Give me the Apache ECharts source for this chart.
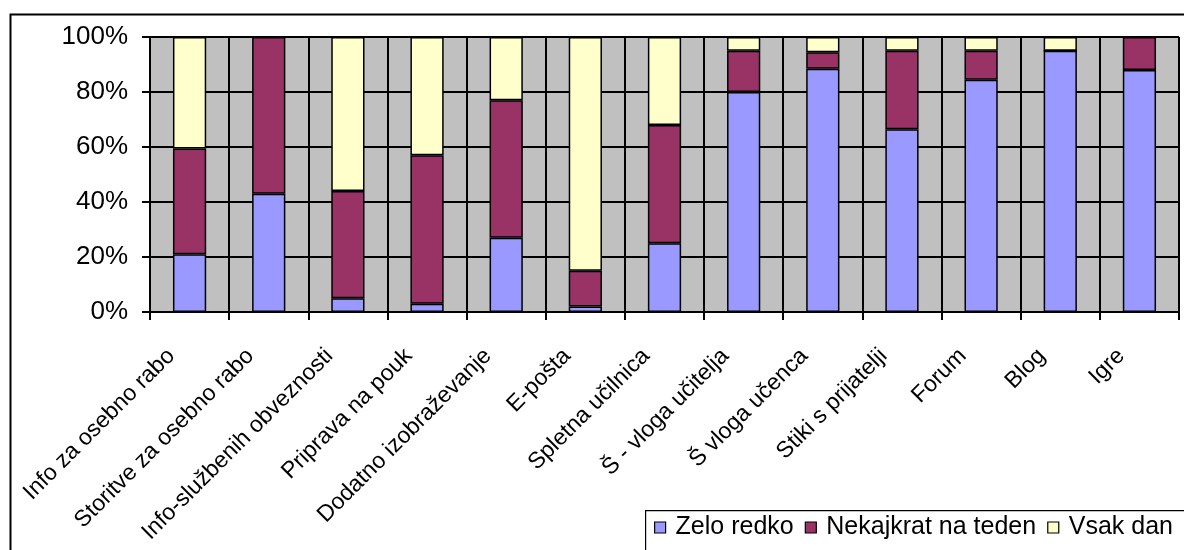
<!DOCTYPE html>
<html>
<head>
<meta charset="utf-8">
<script src="https://cdn.jsdelivr.net/npm/echarts@6/dist/echarts.min.js"></script>
<style>
html,body{margin:0;padding:0;background:#fff;}
#chart{width:1184px;height:550px;}
</style>
</head>
<body>
<div id="chart"></div>
<script>
const categories = ['Info za osebno rabo','Storitve za osebno rabo','Info-službenih obveznosti','Priprava na pouk','Dodatno izobraževanje','E-pošta','Spletna učilnica','Š - vloga učitelja','Š vloga učenca','Stiki s prijatelji','Forum','Blog','Igre'];
const seriesNames = ['Zelo redko','Nekajkrat na teden','Vsak dan'];
const zeloRedko = [21, 43, 5, 3, 27, 2, 25, 80, 88.5, 66.5, 84.5, 95, 88];
const nekajkrat = [38.5, 57, 39, 54, 50, 13, 43, 15, 6, 28.5, 10.5, 0, 12];
const vsakDan = [40.5, 0, 56, 43, 23, 85, 32, 5, 5.5, 5, 5, 5, 0];
const yTicks = [0, 20, 40, 60, 80, 100];

const colors = ['#9999FF', '#993366', '#FFFFCC'];
const font = "'Liberation Sans', Arial, sans-serif";
const chart = echarts.init(document.getElementById('chart'));
const mk = (name, data, i) => ({
  name, type: 'bar', stack: 'total', data, barWidth: '42%',
  itemStyle: { color: colors[i], borderColor: '#000', borderWidth: 1.5 },
  emphasis: { disabled: true }
});
chart.setOption({
  animation: false,
  textStyle: { fontFamily: font, color: '#000' },
  graphic: [{
    type: 'rect', left: 8, top: 12, z: -10,
    shape: { width: 1200, height: 600 },
    style: { fill: 'none', stroke: '#000', lineWidth: 2 }
  }, {
    type: 'rect', left: 645, top: 510, z: -5,
    shape: { width: 600, height: 100 },
    style: { fill: '#fff', stroke: '#000', lineWidth: 1.2 }
  }],
  grid: {
    left: 150, right: 5, top: 37, bottom: 238,
    show: true, backgroundColor: '#C0C0C0', borderColor: '#808080', borderWidth: 1
  },
  legend: {
    left: 646, top: 510, width: 620, orient: 'horizontal',
    data: seriesNames,
    icon: 'rect', itemWidth: 11, itemHeight: 11, itemGap: 11,
    padding: [5, 0, 0, 8],
    borderWidth: 0,
    itemStyle: { borderColor: '#000', borderWidth: 1.2 },
    textStyle: { fontFamily: font, fontSize: 25, color: '#000', padding: [0, 0, 0, 5] }
  },
  xAxis: {
    type: 'category', data: categories, boundaryGap: true,
    axisLine: { lineStyle: { color: '#000', width: 2 } },
    axisTick: { show: true, length: 8, lineStyle: { color: '#000', width: 2 } },
    splitLine: { show: true, interval: 0, lineStyle: { color: '#000', width: 2 } },
    axisLabel: { interval: 0, rotate: 45, fontSize: 23, color: '#000', fontFamily: font, margin: 22, padding: [0, 26, 0, 0] }
  },
  yAxis: {
    type: 'value', min: yTicks[0], max: yTicks[yTicks.length - 1], interval: 20,
    axisLine: { show: true, lineStyle: { color: '#000', width: 2 } },
    axisTick: { show: true, length: 8, lineStyle: { color: '#000', width: 2 } },
    splitLine: { show: true, lineStyle: { color: '#000', width: 2 } },
    axisLabel: { formatter: '{value}%', fontSize: 26, color: '#000', fontFamily: font, margin: 22 }
  },
  series: [mk(seriesNames[0], zeloRedko, 0), mk(seriesNames[1], nekajkrat, 1), mk(seriesNames[2], vsakDan, 2)]
});
</script>
</body>
</html>
